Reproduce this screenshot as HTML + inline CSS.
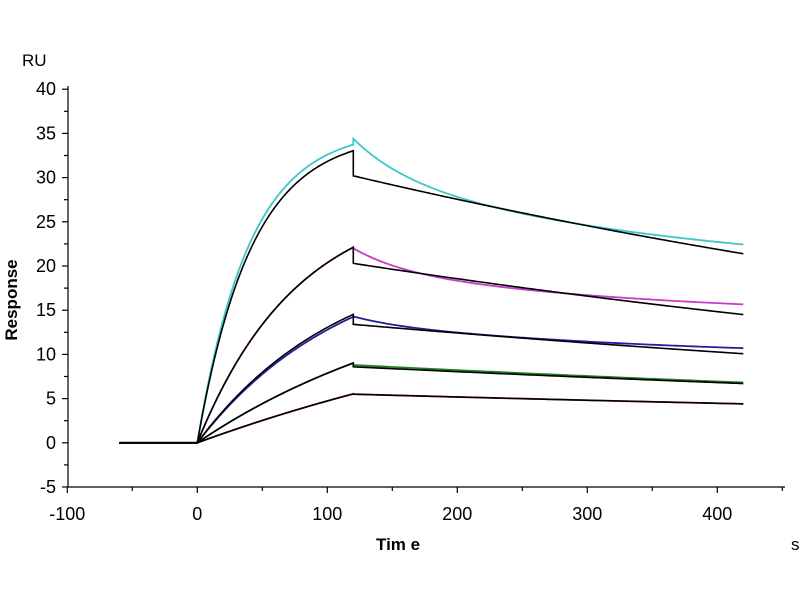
<!DOCTYPE html>
<html><head><style>
body{margin:0;background:#fff;}
svg{display:block;font-family:"Liberation Sans",Arial,sans-serif;}
</style></head><body>
<svg id="s" width="800" height="600" xmlns="http://www.w3.org/2000/svg">
<rect width="800" height="600" fill="#fff"/>
<text x="22" y="66" font-size="17">RU</text>
<g id="ax" stroke="#000" stroke-width="1.2"></g>
<g id="lbl" font-size="18" fill="#000"></g>
<text x="376" y="550" font-size="17" font-weight="bold">Tim e</text>
<text x="791" y="550" font-size="17">s</text>
<text transform="translate(17,300) rotate(-90)" font-size="17" font-weight="bold" text-anchor="middle">Response</text>
<g id="cv" fill="none"></g>
</svg>
<script>
const X=t=>197.3+t*1.3, Y=v=>442.8-v*8.84;
const ax=document.getElementById('ax'),lb=document.getElementById('lbl'),cv=document.getElementById('cv');
let h='';
h+=`<line x1="68" y1="86" x2="68" y2="487"/><line x1="68" y1="487" x2="785" y2="487"/>`;
for(let v=-5;v<=40;v+=2.5){let y=Y(v);h+=`<line x1="${v%5==0?62:64}" y1="${y}" x2="68" y2="${y}"/>`;}
for(let t=-100;t<=450;t+=50){let x=X(t);h+=`<line x1="${x}" y1="487" x2="${x}" y2="${t%100==0?493:491}"/>`;}
ax.innerHTML=h;
let l='';
for(let v=-5;v<=40;v+=5)l+=`<text x="56" y="${Y(v)+6}" text-anchor="end">${v}</text>`;
for(let t=-100;t<=400;t+=100)l+=`<text x="${X(t)}" y="520" text-anchor="middle">${t}</text>`;
lb.innerHTML=l;
function path(fa,fd){let p=`M${X(-60)},${Y(0)} L${X(0)},${Y(0)}`;
 for(let t=1;t<=120;t++)p+=` L${X(t)},${Y(fa(t))}`;
 for(let t=120;t<=420;t+=2)p+=` L${X(t)},${Y(fd(t-120))}`;return p;}
const E=Math.exp;
const S=[
 {c:'#3cc8c8',a:t=>35.5*(1-E(-0.025*t)),d:d=>19+4*E(-0.025*d)+11.4*E(-0.004*d),
  ba:t=>35*(1-E(-0.024*t)),bd:d=>30.2*E(-0.00115*d)},
 {c:'#c83cc8',a:t=>28*(1-E(-0.013*t)),d:d=>14+2.5*E(-0.025*d)+5.5*E(-0.004*d),
  ba:t=>28*(1-E(-0.013*t)),bd:d=>20.3*E(-0.00112*d)},
 {c:'#2020a0',a:t=>22*(1-E(-0.0087*t)),d:d=>9.5+0.8*E(-0.03*d)+4*E(-0.004*d),
  ba:t=>22*(1-E(-0.009*t)),bd:d=>13.4*E(-0.00095*d)},
 {c:'#208020',a:t=>20*(1-E(-0.005*t)),d:d=>8.8*E(-0.00085*d),
  ba:t=>20*(1-E(-0.005*t)),bd:d=>8.6*E(-0.00083*d)},
 {c:'#c03020',a:t=>20*(1-E(-0.0027*t)),d:d=>5.5*E(-0.00074*d),
  ba:t=>20*(1-E(-0.0027*t)),bd:d=>5.5*E(-0.00074*d)}
];
let c='';
S.forEach(s=>{c+=`<path d="${path(s.a,s.d)}" stroke="${s.c}" stroke-width="1.8"/>`;});
S.forEach(s=>{c+=`<path d="${path(s.ba,s.bd)}" stroke="#000" stroke-width="1.6"/>`;});
cv.innerHTML=c;
</script>
</body></html>
